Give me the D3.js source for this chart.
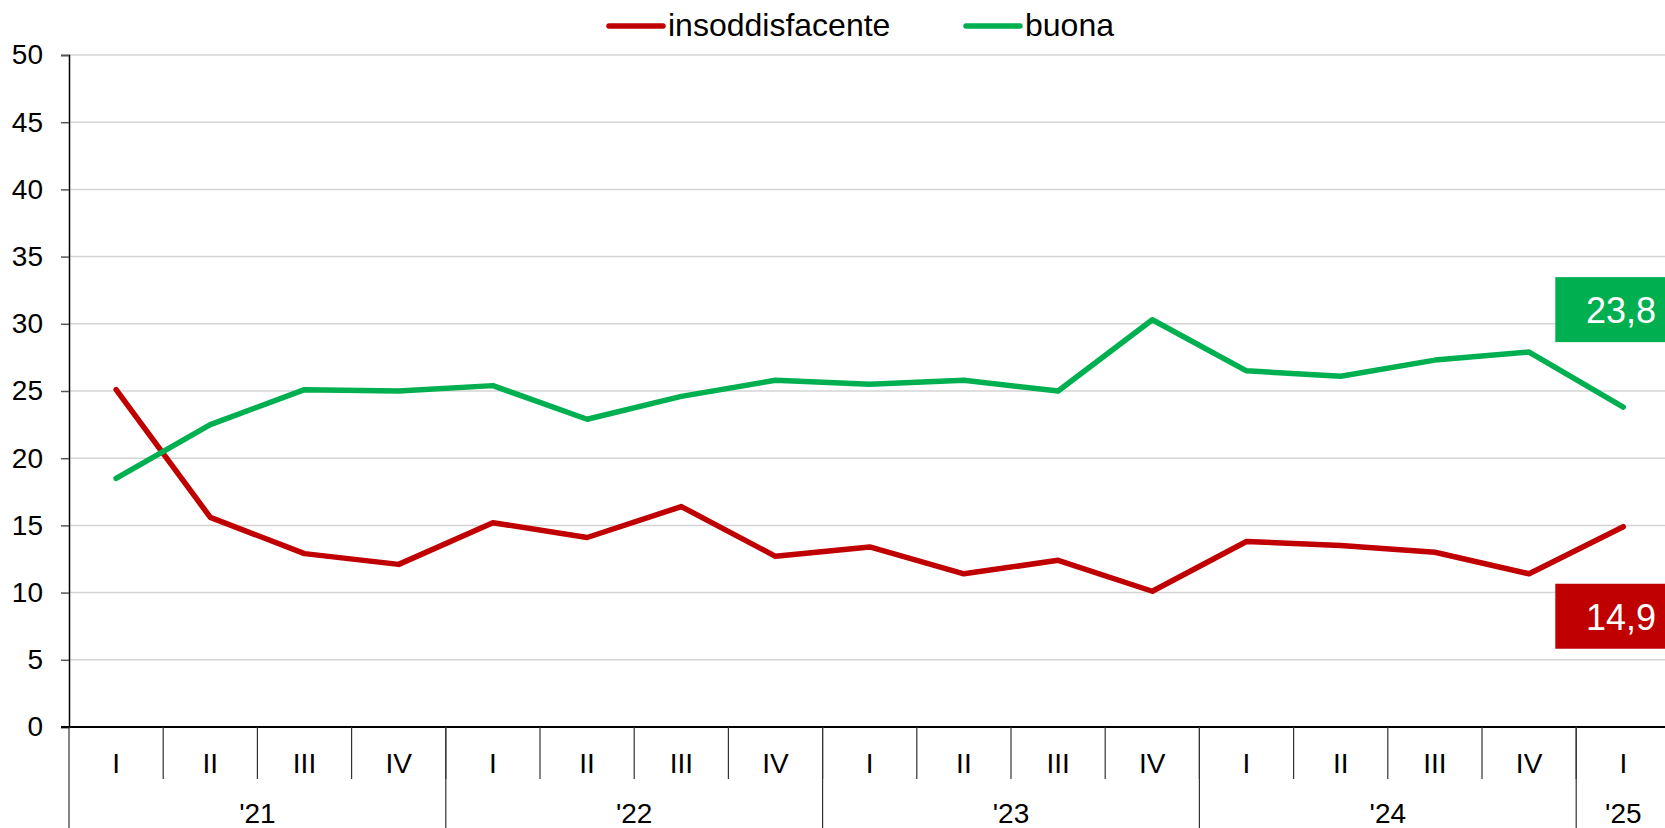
<!DOCTYPE html>
<html>
<head>
<meta charset="utf-8">
<script src="https://cdn.jsdelivr.net/npm/d3@7/dist/d3.min.js"></script>
<style>
  html, body { margin: 0; padding: 0; background: #fff; }
  svg { display: block; font-family: "Liberation Sans", Arial, sans-serif; }
</style>
</head>
<body>
<svg id="chart" width="1665" height="828"></svg>
<script>
// data
const quarters = ["I", "II", "III", "IV", "I", "II", "III", "IV", "I", "II", "III", "IV", "I", "II", "III", "IV", "I"];
const years = ["'21", "'22", "'23", "'24", "'25"];
const yearSizes = [4, 4, 4, 4, 1];
const insoddisfacente = [25.1, 15.6, 12.9, 12.1, 15.2, 14.1, 16.4, 12.7, 13.4, 11.4, 12.4, 10.1, 13.8, 13.5, 13.0, 11.4, 14.9];
const buona = [18.5, 22.5, 25.1, 25.0, 25.4, 22.9, 24.6, 25.8, 25.5, 25.8, 25.0, 30.3, 26.5, 26.1, 27.3, 27.9, 23.8];
const yTicks = [0, 5, 10, 15, 20, 25, 30, 35, 40, 45, 50];

const series = [
    { name: "insoddisfacente", values: insoddisfacente, color: "#C00000", label: "14,9" },
    { name: "buona", values: buona, color: "#00B050", label: "23,8" }
];

const svg = d3.select("#chart");
const plotLeft = 69, bandW = 94.2;
const plotTop = 55, plotBottom = 727;

const x = d3.scaleBand()
    .domain(d3.range(quarters.length))
    .range([plotLeft, plotLeft + bandW * quarters.length])
    .paddingInner(0).paddingOuter(0);
const y = d3.scaleLinear().domain([0, 50]).range([plotBottom, plotTop]);
const cx = i => x(i) + x.bandwidth() / 2;

// gridlines
svg.append("g")
    .selectAll("line")
    .data(yTicks.filter(d => d > 0))
    .enter().append("line")
    .attr("x1", plotLeft).attr("x2", 1665)
    .attr("y1", d => y(d)).attr("y2", d => y(d))
    .attr("stroke", "#d4d4d4")
    .attr("stroke-width", 1.5);

// y axis
const yAxis = svg.append("g")
    .attr("transform", `translate(${plotLeft},0)`)
    .call(d3.axisLeft(y).tickValues(yTicks).tickSize(8).tickPadding(18).tickFormat(d3.format("d")));
yAxis.select(".domain").attr("stroke", "#000").attr("stroke-width", 1.5);
yAxis.selectAll(".tick line").attr("stroke", "#555").attr("stroke-width", 1.5);
yAxis.selectAll(".tick text")
    .attr("fill", "#000")
    .style("font-size", "28px")
    .style("font-family", "Liberation Sans, Arial, sans-serif");

// x axis baseline
svg.append("line")
    .attr("x1", plotLeft - 8).attr("x2", 1665)
    .attr("y1", plotBottom).attr("y2", plotBottom)
    .attr("stroke", "#000").attr("stroke-width", 2);

// quarter separators
const xAxis = svg.append("g");
xAxis.selectAll("line.q")
    .data(d3.range(1, quarters.length))
    .enter().append("line")
    .attr("class", "q")
    .attr("x1", d => x(d)).attr("x2", d => x(d))
    .attr("y1", plotBottom).attr("y2", plotBottom + 52)
    .attr("stroke", "#333").attr("stroke-width", 1.2);

// year separators
let starts = [];
let acc = 0;
yearSizes.forEach(n => { starts.push(acc); acc += n; });
xAxis.selectAll("line.yr")
    .data(starts)
    .enter().append("line")
    .attr("class", "yr")
    .attr("x1", d => x(d)).attr("x2", d => x(d))
    .attr("y1", plotBottom).attr("y2", 828)
    .attr("stroke", "#333").attr("stroke-width", 1.2);

xAxis.selectAll("text.q")
    .data(quarters)
    .enter().append("text")
    .attr("class", "q")
    .attr("x", (d, i) => cx(i))
    .attr("y", plotBottom + 46)
    .attr("text-anchor", "middle")
    .style("font-size", "28px")
    .text(d => d);

xAxis.selectAll("text.yr")
    .data(years)
    .enter().append("text")
    .attr("class", "yr")
    .attr("x", (d, i) => x(starts[i]) + bandW * yearSizes[i] / 2)
    .attr("y", plotBottom + 96)
    .attr("text-anchor", "middle")
    .style("font-size", "28px")
    .text(d => d);

// lines
const line = d3.line().x((d, i) => cx(i)).y(d => y(d));
svg.selectAll("path.series")
    .data(series)
    .enter().append("path")
    .attr("class", "series")
    .attr("d", d => line(d.values))
    .attr("fill", "none")
    .attr("stroke", d => d.color)
    .attr("stroke-width", 5.5)
    .attr("stroke-linejoin", "round")
    .attr("stroke-linecap", "round");

// end labels
const last = quarters.length - 1;
const offsets = { "insoddisfacente": 90, "buona": -97 };
series.forEach(s => {
    const cy = y(s.values[last]) + offsets[s.name];
    const bx = cx(last) - 68;
    svg.append("rect")
        .attr("x", bx).attr("y", cy - 33)
        .attr("width", 1665 - bx).attr("height", 65)
        .attr("fill", s.color);
    svg.append("text")
        .attr("x", 1656).attr("y", cy + 13)
        .attr("text-anchor", "end")
        .attr("fill", "#fff")
        .style("font-size", "36px")
        .text(s.label);
});

// legend
const legend = [
    { name: "insoddisfacente", color: "#C00000", x: 609 },
    { name: "buona", color: "#00B050", x: 966 }
];
const lg = svg.append("g");
legend.forEach(l => {
    lg.append("line")
        .attr("x1", l.x).attr("x2", l.x + 54)
        .attr("y1", 26).attr("y2", 26)
        .attr("stroke", l.color).attr("stroke-width", 5.5)
        .attr("stroke-linecap", "round");
    lg.append("text")
        .attr("x", l.x + 59).attr("y", 36)
        .style("font-size", "32px")
        .text(l.name);
});
</script>
</body>
</html>
